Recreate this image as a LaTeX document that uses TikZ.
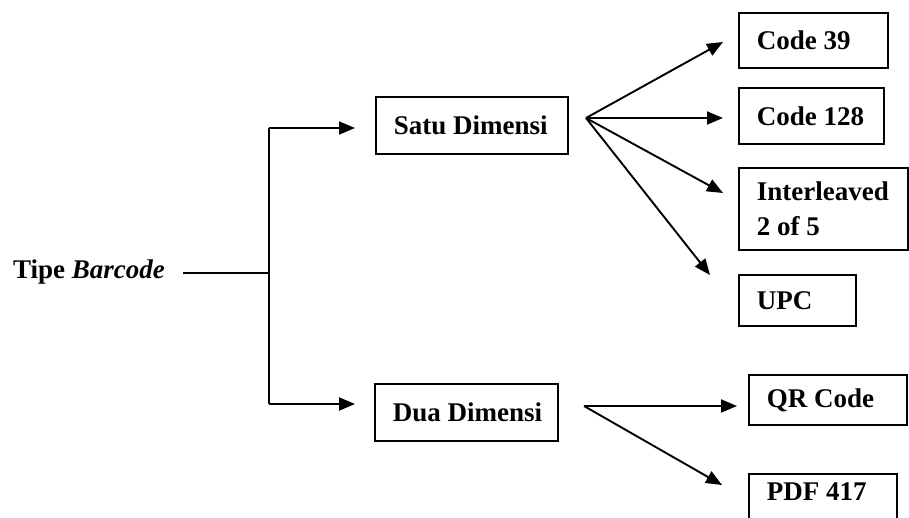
\documentclass[tikz,border=0pt]{standalone}
\usepackage{fontspec}
\setmainfont{Liberation Serif}
\usetikzlibrary{arrows.meta}
\newcommand{\natsp}{\spaceskip=0pt\xspaceskip=0pt\relax}
\tikzset{
  bx/.style={draw, line width=1.8pt, anchor=north west, inner xsep=18pt, inner ysep=0pt, align=left, font=\fontsize{27}{35}\selectfont\bfseries},
  conn/.style={line width=1.9pt},
  arr/.style={conn, -{Triangle[length=16pt,width=13pt]}}
}
\begin{document}
\begin{tikzpicture}[x=1pt,y=-1pt]
\useasboundingbox (0,0) rectangle (909,517);
\clip (0,0) rectangle (909,517);
% root
\node[anchor=base west, inner sep=0pt, font=\fontsize{27}{35}\selectfont\bfseries] (tb) at (13,278) {Tipe \textit{Barcode}};
% level 1
\node[bx, text width=156pt, minimum height=57pt] (sd) at (375,96) {\natsp\mbox{Satu Dimensi}};
\node[bx, text width=147pt, minimum height=57pt] (dd) at (374,383) {\natsp\mbox{Dua Dimensi}};
% level 2
\node[bx, text width=113pt, minimum height=55pt] (c39) at (738,12) {\natsp\mbox{Code 39}};
\node[bx, text width=109pt, minimum height=56pt] (c128) at (738,87) {\natsp\mbox{Code 128}};
\node[bx, text width=133pt, minimum height=82pt] (il) at (738,167) {\natsp\mbox{Interleaved}\\\mbox{2 of 5}};
\node[bx, text width=81pt, minimum height=51pt] (upc) at (738,274) {\natsp\mbox{UPC}};
\node[bx, text width=122pt, minimum height=50pt] (qr) at (748,374) {\natsp\mbox{QR Code}};
\node[bx, text width=112pt, text height=27pt, text depth=30pt] (pdf) at (748,473) {\natsp\mbox{PDF 417}};
% coordinates
\coordinate (tbs) at (183,273);
\coordinate (j) at (269,273);
\coordinate (jt) at (269,128);
\coordinate (jb) at (269,404);
\coordinate (sdt) at (355,128);
\coordinate (ddt) at (355,404);
\coordinate (fs) at (586,118);
\coordinate (fd) at (584,406);
\coordinate (t39) at (723,42);
\coordinate (t128) at (723,118);
\coordinate (til) at (723,193);
\coordinate (tupc) at (710,275);
\coordinate (tqr) at (737,406);
\coordinate (tpdf) at (722,485);
% connectors
\draw[conn] (tbs) -- (j);
\draw[conn] (jt) -- (jb);
\draw[arr] (jt) -- (sdt);
\draw[arr] (jb) -- (ddt);
\draw[arr] (fs) -- (t39);
\draw[arr] (fs) -- (t128);
\draw[arr] (fs) -- (til);
\draw[arr] (fs) -- (tupc);
\draw[arr] (fd) -- (tqr);
\draw[arr] (fd) -- (tpdf);
\end{tikzpicture}
\end{document}
